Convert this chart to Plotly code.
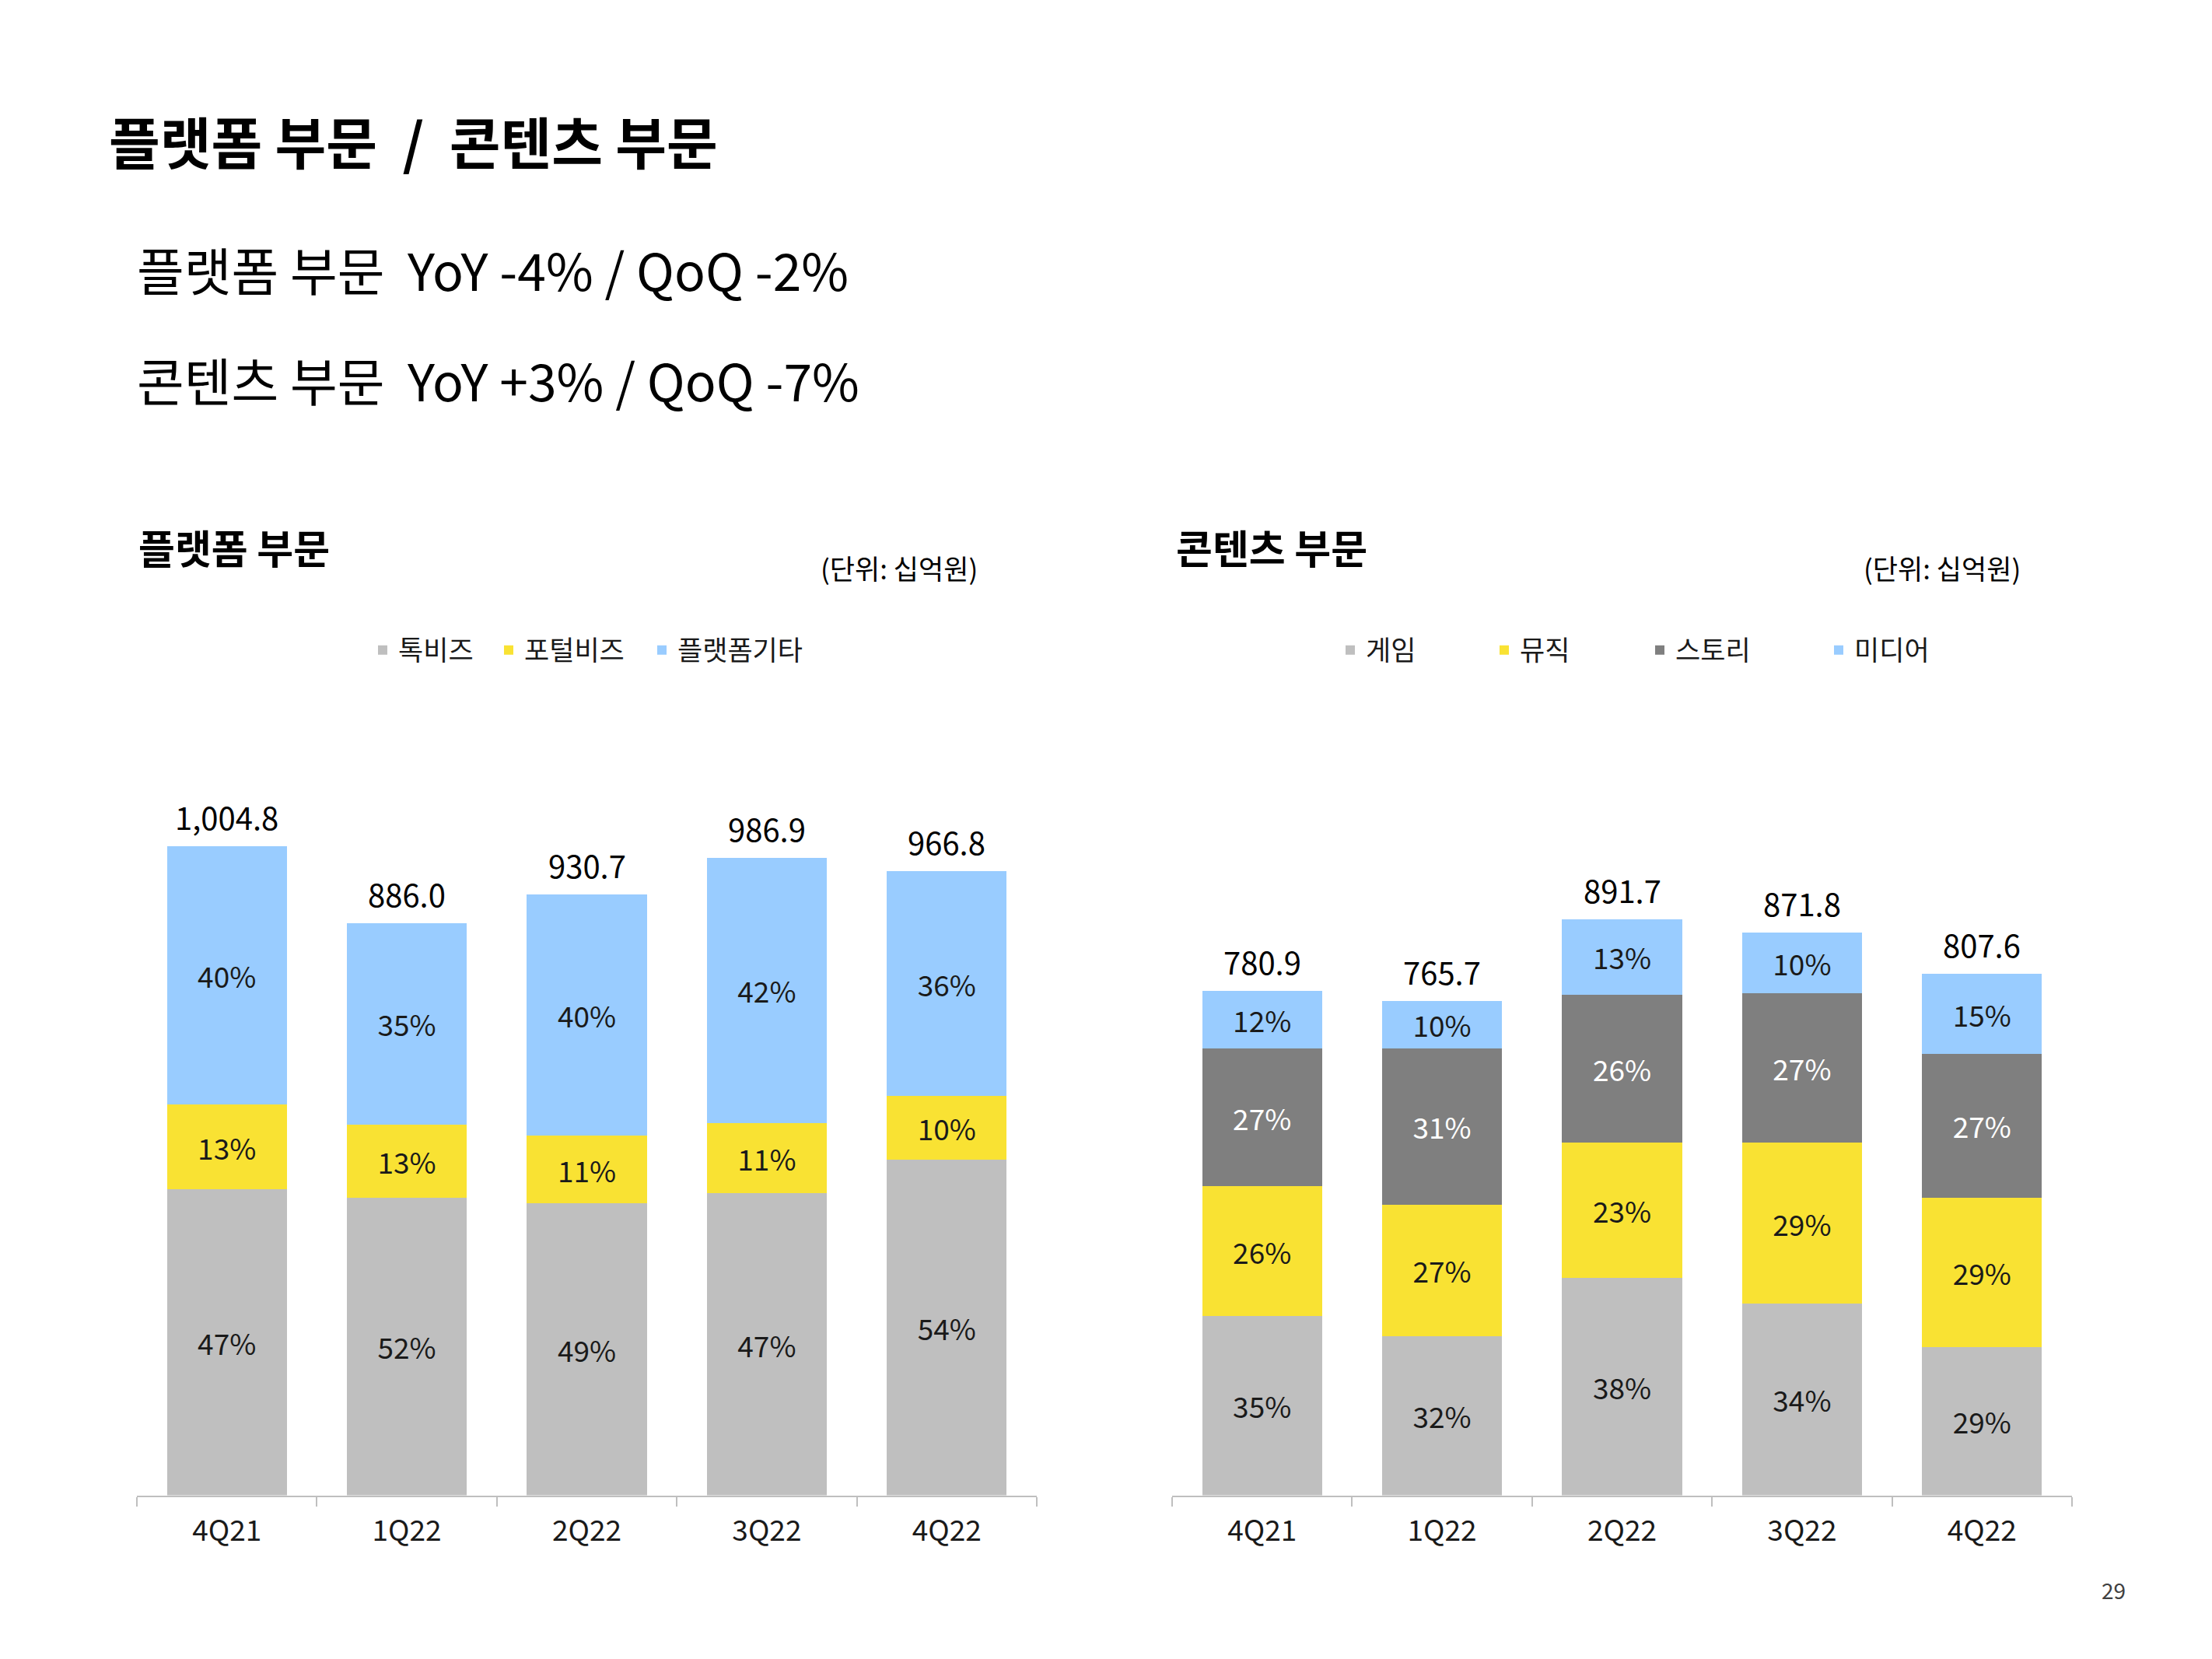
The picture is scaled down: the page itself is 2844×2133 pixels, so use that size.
import plotly.graph_objects as go

W, H = 2844, 2133

quarters = ["4Q21", "1Q22", "2Q22", "3Q22", "4Q22"]

# 플랫폼 부문 (단위: 십억원)
talk_biz = [474.0, 460.9, 452.2, 467.5, 519.9]
portal_biz = [131.0, 113.6, 104.8, 109.2, 98.3]
platform_etc = [399.8, 311.5, 373.7, 410.2, 348.6]
platform_total = [1004.8, 886.0, 930.7, 986.9, 966.8]
platform_total_labels = ["1,004.8", "886.0", "930.7", "986.9", "966.8"]
talk_pct = ["47%", "52%", "49%", "47%", "54%"]
portal_pct = ["13%", "13%", "11%", "11%", "10%"]
etc_pct = ["40%", "35%", "40%", "42%", "36%"]

# 콘텐츠 부문 (단위: 십억원)
game = [277.4, 246.8, 336.4, 297.1, 229.4]
music = [201.0, 203.1, 209.7, 249.0, 231.5]
story = [214.0, 242.5, 229.4, 231.5, 222.8]
media = [88.5, 73.3, 116.2, 94.2, 123.9]
content_total = [780.9, 765.7, 891.7, 871.8, 807.6]
content_total_labels = ["780.9", "765.7", "891.7", "871.8", "807.6"]
game_pct = ["35%", "32%", "38%", "34%", "29%"]
music_pct = ["26%", "27%", "23%", "29%", "29%"]
story_pct = ["27%", "31%", "26%", "27%", "27%"]
media_pct = ["12%", "10%", "13%", "10%", "15%"]

FONT = "Noto Sans CJK KR"
C_LGRAY = "#BFBFBF"
C_YELLOW = "#F9E233"
C_DGRAY = "#7F7F7F"
C_BLUE = "#99CCFF"
TXT = "#1A1A1A"


def px_x(x):
    return x / W


def px_y(y):
    return 1 - y / H


fig = go.Figure()


def add_bar(name, vals, labels, color, xa, ya, legend, txtcolor, lw):
    fig.add_trace(go.Bar(
        name=name, x=quarters, y=vals, text=labels,
        marker=dict(color=color, line=dict(width=0)),
        textposition="inside", insidetextanchor="middle", textangle=0,
        textfont=dict(family=FONT, size=37, color=txtcolor),
        xaxis=xa, yaxis=ya, legend=legend, legendwidth=lw,
        hoverinfo="skip",
    ))


add_bar("톡비즈", talk_biz, talk_pct, C_LGRAY, "x", "y", "legend", TXT, 117)
add_bar("포털비즈", portal_biz, portal_pct, C_YELLOW, "x", "y", "legend", TXT, 152)
add_bar("플랫폼기타", platform_etc, etc_pct, C_BLUE, "x", "y", "legend", TXT, 180)

add_bar("게임", game, game_pct, C_LGRAY, "x2", "y2", "legend2", TXT, 153)
add_bar("뮤직", music, music_pct, C_YELLOW, "x2", "y2", "legend2", TXT, 155)
add_bar("스토리", story, story_pct, C_DGRAY, "x2", "y2", "legend2", "#FFFFFF", 185)
add_bar("미디어", media, media_pct, C_BLUE, "x2", "y2", "legend2", TXT, 160)

annotations = []
for q, t, lab in zip(quarters, platform_total, platform_total_labels):
    annotations.append(dict(x=q, y=t, xref="x", yref="y", text=lab, showarrow=False,
                            yanchor="middle", yshift=38,
                            font=dict(family=FONT, size=40, color="#000000")))
for q, t, lab in zip(quarters, content_total, content_total_labels):
    annotations.append(dict(x=q, y=t, xref="x2", yref="y2", text=lab, showarrow=False,
                            yanchor="middle", yshift=38,
                            font=dict(family=FONT, size=40, color="#000000")))


def txt(text, x, y, size, xanchor="left", bold=False, color="#000000"):
    annotations.append(dict(
        text=f"<b>{text}</b>" if bold else text,
        x=px_x(x), y=px_y(y), xref="paper", yref="paper",
        xanchor=xanchor, yanchor="middle", showarrow=False,
        font=dict(family=FONT, size=size, color=color)))


txt("플랫폼 부문  /  콘텐츠 부문", 138, 180, 71.5, bold=True)
txt("플랫폼 부문  YoY -4% / QoQ -2%", 174, 345, 66)
txt("콘텐츠 부문  YoY +3% / QoQ -7%", 174, 487, 66)
txt("플랫폼 부문", 176, 703, 51, bold=True)
txt("콘텐츠 부문", 1510, 703, 51, bold=True)
txt("(단위: 십억원)", 1259, 729, 35, xanchor="right")
txt("(단위: 십억원)", 2600, 729, 35, xanchor="right")
txt("29", 2717, 2044, 28, xanchor="center", color="#404040")

y_dom = [px_y(1922.6), px_y(1000)]
y_rng = [0, 1111.2]

axis_x = dict(showline=True, linecolor=C_LGRAY, linewidth=2,
              ticks="outside", tickson="boundaries", ticklen=12, tickwidth=2,
              tickcolor=C_LGRAY, showgrid=False, zeroline=False,
              tickfont=dict(family=FONT, size=37, color="#1A1A1A"),
              ticklabelstandoff=12, fixedrange=True)
axis_y = dict(range=y_rng, domain=y_dom, showgrid=False, zeroline=False,
              showticklabels=False, showline=False, ticks="", fixedrange=True)

legend_common = dict(orientation="h", yanchor="middle", xanchor="left",
                     font=dict(family=FONT, size=35, color="#1A1A1A"),
                     bgcolor="rgba(0,0,0,0)", borderwidth=0, itemwidth=30,
                     traceorder="normal", itemclick=False, itemdoubleclick=False)

fig.update_layout(
    width=W, height=H,
    margin=dict(l=0, r=0, t=0, b=0),
    paper_bgcolor="#FFFFFF", plot_bgcolor="#FFFFFF",
    barmode="stack", bargap=0.334,
    showlegend=True,
    xaxis=dict(axis_x, domain=[px_x(176), px_x(1333)], anchor="y"),
    yaxis=dict(axis_y, anchor="x"),
    xaxis2=dict(axis_x, domain=[px_x(1507), px_x(2664)], anchor="y2"),
    yaxis2=dict(axis_y, anchor="x2"),
    legend=dict(legend_common, x=px_x(472), y=px_y(836)),
    legend2=dict(legend_common, x=px_x(1716), y=px_y(836)),
    annotations=annotations,
    font=dict(family=FONT),
)

fig.write_html("out.html")
